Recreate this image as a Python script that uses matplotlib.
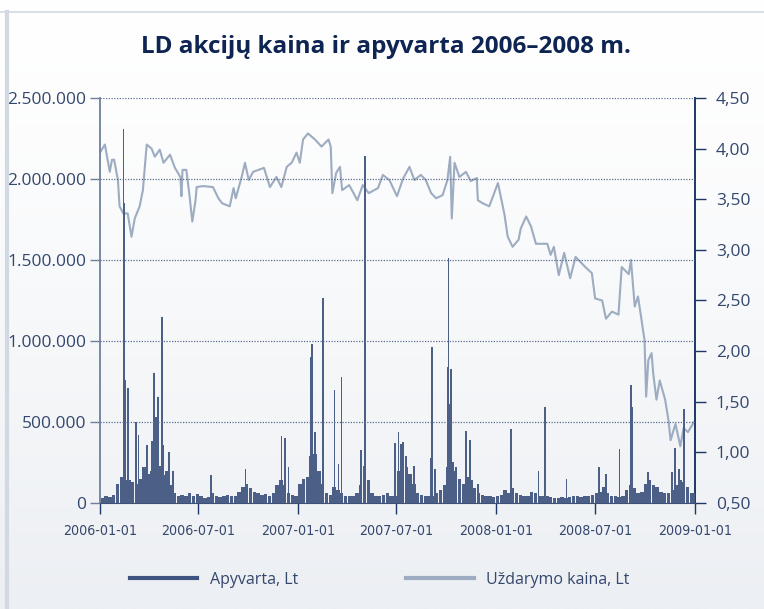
import numpy as np
import pandas as pd
import matplotlib
matplotlib.use("Agg")
import matplotlib.pyplot as plt
import matplotlib.dates as mdates
from matplotlib.ticker import FuncFormatter
from matplotlib.lines import Line2D

# closing price, Lt
price_dates = [
    "2006-01-02", "2006-01-10", "2006-01-19", "2006-01-23", "2006-01-27", "2006-02-03",
    "2006-02-06", "2006-02-13", "2006-02-21", "2006-02-28", "2006-03-06", "2006-03-15",
    "2006-03-21", "2006-03-28", "2006-04-06", "2006-04-12", "2006-04-21", "2006-04-28",
    "2006-05-10", "2006-05-19", "2006-05-29", "2006-05-31", "2006-06-02", "2006-06-09",
    "2006-06-15", "2006-06-20", "2006-06-26", "2006-06-28", "2006-07-10", "2006-07-28",
    "2006-08-07", "2006-08-14", "2006-08-28", "2006-09-04", "2006-09-08", "2006-09-19",
    "2006-09-25", "2006-10-02", "2006-10-10", "2006-10-30", "2006-11-10", "2006-11-22",
    "2006-12-01", "2006-12-11", "2006-12-20", "2006-12-29",
    "2007-01-04", "2007-01-10", "2007-01-19", "2007-02-01", "2007-02-13", "2007-02-26",
    "2007-03-02", "2007-03-05", "2007-03-12", "2007-03-19", "2007-03-23", "2007-04-05",
    "2007-04-20", "2007-04-30", "2007-05-11", "2007-05-28", "2007-06-06", "2007-06-18",
    "2007-07-02", "2007-07-13", "2007-07-25", "2007-08-03", "2007-08-15", "2007-08-24",
    "2007-09-03", "2007-09-12", "2007-09-24", "2007-10-03", "2007-10-08", "2007-10-11",
    "2007-10-16", "2007-10-25", "2007-11-06", "2007-11-15", "2007-11-26", "2007-11-28",
    "2007-12-07", "2007-12-19",
    "2008-01-04", "2008-01-16", "2008-01-22", "2008-01-31", "2008-02-11", "2008-02-15",
    "2008-02-25", "2008-03-05", "2008-03-14", "2008-04-04", "2008-04-10", "2008-04-16",
    "2008-04-25", "2008-05-05", "2008-05-16", "2008-05-26", "2008-06-13", "2008-06-25",
    "2008-07-01", "2008-07-14", "2008-07-21", "2008-08-01", "2008-08-13", "2008-08-19",
    "2008-09-01", "2008-09-05", "2008-09-12", "2008-09-18", "2008-09-30", "2008-10-03",
    "2008-10-07", "2008-10-13", "2008-10-16", "2008-10-22", "2008-10-28", "2008-11-07",
    "2008-11-13", "2008-11-17", "2008-11-26", "2008-12-05", "2008-12-11", "2008-12-19",
    "2008-12-30",
]
price_values = [
    3.97, 4.04, 3.77, 3.89, 3.89, 3.69,
    3.43, 3.36, 3.36, 3.13, 3.31, 3.43,
    3.59, 4.04, 4.00, 3.92, 3.99, 3.86,
    3.94, 3.81, 3.72, 3.53, 3.79, 3.79,
    3.53, 3.28, 3.49, 3.62, 3.63, 3.62,
    3.51, 3.46, 3.43, 3.61, 3.51, 3.72,
    3.86, 3.69, 3.77, 3.81, 3.62, 3.72,
    3.62, 3.82, 3.86, 3.96,
    3.86, 4.09, 4.15, 4.09, 4.02, 4.09,
    4.02, 3.56, 3.76, 3.82, 3.59, 3.64,
    3.49, 3.64, 3.56, 3.61, 3.74, 3.69,
    3.53, 3.70, 3.82, 3.69, 3.74, 3.69,
    3.56, 3.51, 3.54, 3.69, 3.92, 3.31,
    3.86, 3.72, 3.77, 3.68, 3.71, 3.49,
    3.46, 3.43,
    3.66, 3.35, 3.13, 3.03, 3.10, 3.21,
    3.33, 3.23, 3.06, 3.06, 2.95, 3.03,
    2.75, 2.97, 2.72, 2.93, 2.83, 2.77,
    2.52, 2.50, 2.32, 2.39, 2.36, 2.83,
    2.76, 2.90, 2.44, 2.54, 2.11, 1.55,
    1.91, 1.98, 1.78, 1.52, 1.71, 1.52,
    1.32, 1.12, 1.28, 1.06, 1.24, 1.20,
    1.30,
]

# turnover, thousand Lt: weekly background level, first week starts 2006-01-02
week_start = "2006-01-02"
week_volume = [
    30, 45, 35, 50, 120, 160, 140, 140, 130, 120, 150, 220, 180,
    200, 280, 230, 170, 200, 110, 60, 40, 50, 45, 60, 40, 55,
    40, 30, 35, 60, 40, 35, 40, 50, 45, 40, 70, 100, 120,
    90, 70, 60, 50, 55, 40, 60, 110, 140, 110, 60, 50, 40,
    120, 150, 160, 250, 300, 200, 120, 60, 50, 100, 80, 60, 40,
    40, 40, 60, 110, 150, 140, 60, 40, 45, 50, 60, 40, 45,
    200, 250, 220, 180, 120, 60, 50, 40, 40, 45, 60, 80, 110,
    150, 250, 200, 150, 120, 160, 140, 90, 60, 50, 40, 40, 35,
    40, 50, 80, 60, 90, 60, 50, 45, 40, 70, 60, 40, 45,
    45, 35, 30, 30, 35, 30, 35, 40, 40, 35, 40, 45, 50,
    60, 70, 100, 60, 40, 40, 35, 40, 80, 110, 90, 60, 70,
    120, 140, 110, 100, 70, 60, 60, 80, 110, 140, 130, 100, 60, 60,
]

# single-day turnover peaks, thousand Lt
spike_dates = [
    "2006-02-13", "2006-02-14", "2006-02-16", "2006-02-21", "2006-03-08", "2006-03-13",
    "2006-03-28", "2006-04-07", "2006-04-11", "2006-04-14", "2006-04-18", "2006-04-25",
    "2006-04-28", "2006-05-08", "2006-05-16", "2006-07-24", "2006-09-26", "2006-12-01",
    "2006-12-08", "2006-12-14",
    "2007-01-22", "2007-01-24", "2007-01-26", "2007-02-01", "2007-02-16", "2007-03-09",
    "2007-03-16", "2007-03-22", "2007-04-27", "2007-05-02", "2007-05-04", "2007-06-28",
    "2007-07-05", "2007-07-10", "2007-07-13", "2007-07-19", "2007-08-02", "2007-09-03",
    "2007-09-04", "2007-09-10", "2007-10-01", "2007-10-03", "2007-10-05", "2007-10-08",
    "2007-10-10", "2007-10-19", "2007-11-06", "2007-11-14", "2007-11-28",
    "2008-01-28", "2008-03-19", "2008-03-31", "2008-05-09", "2008-07-08", "2008-07-21",
    "2008-08-15", "2008-09-05", "2008-09-08", "2008-10-06", "2008-11-20", "2008-11-25",
    "2008-12-02", "2008-12-12",
]
spike_volume = [
    2310, 1850, 760, 710, 500, 420,
    355, 385, 800, 530, 655, 1150,
    355, 315, 200, 170, 210, 412,
    400, 220,
    290, 903, 980, 440, 1264, 697,
    240, 780, 325, 230, 2140, 372,
    440, 365, 375, 290, 230, 280,
    965, 210, 220, 840, 1510, 610,
    830, 220, 445, 390, 120,
    455, 200, 595, 150, 220, 180,
    335, 730, 595, 190, 190, 340,
    210, 578,
]

bar_color = "#4b5f87"
line_color = "#9dacc1"
navy = "#1e3766"
text_color = "#34476e"

fig = plt.figure(figsize=(7.64, 6.09), dpi=100)

# soft vertical gradient behind everything
bg = fig.add_axes([0, 0, 1, 1], zorder=-10)
grad = np.linspace(0, 1, 256).reshape(-1, 1)
top = np.array([1.0, 1.0, 1.0])
bottom = np.array([0xec, 0xef, 0xf3]) / 255
img = top + (bottom - top) * grad[:, :, None] ** 1.3
bg.imshow(img, aspect="auto", extent=[0, 1, 0, 1])
bg.axis("off")
fig.add_artist(Line2D([0, 1], [0.980, 0.980], color="#d3d9e3", lw=1.2))
fig.add_artist(Line2D([0.009, 0.009], [0, 0.980], color="#d3d9e3", lw=3))

ax = fig.add_axes([0.1309, 0.1741, 0.7788, 0.665])
ax2 = ax.twinx()
ax.set_zorder(ax2.get_zorder() + 1)
ax.patch.set_visible(False)

wk = pd.date_range(week_start, periods=len(week_volume), freq="7D")
ax.bar(wk, np.array(week_volume) * 1000, width=6.2, align="edge",
       color=bar_color, linewidth=0)
sd = pd.to_datetime(spike_dates)
ax.bar(sd, np.array(spike_volume) * 1000, width=3.0, color=bar_color,
       linewidth=0)

pd_dates = pd.to_datetime(price_dates)
ax2.plot(pd_dates, price_values, color=line_color, lw=1.5)

x0, x1 = pd.Timestamp("2006-01-01"), pd.Timestamp("2009-01-01")
ax.set_xlim(x0, x1)
ax.set_ylim(0, 2500000)
ax2.set_ylim(0.5, 4.5)

ax.set_yticks(np.arange(0, 2500001, 500000))
ax.yaxis.set_major_formatter(FuncFormatter(lambda v, p: f"{int(v):,}".replace(",", ".")))
ax2.set_yticks(np.arange(0.5, 4.51, 0.5))
ax2.yaxis.set_major_formatter(FuncFormatter(lambda v, p: f"{v:.2f}".replace(".", ",")))

xt = pd.to_datetime(["2006-01-01", "2006-07-01", "2007-01-01", "2007-07-01",
                     "2008-01-01", "2008-07-01", "2009-01-01"])
ax.set_xticks(xt)
ax.xaxis.set_major_formatter(mdates.DateFormatter("%Y-%m-%d"))

ax.grid(axis="y", color="#5a6c90", linestyle=(0, (1, 1.2)), lw=0.9)
ax.spines["top"].set_visible(False)
ax2.spines["top"].set_visible(False)
ax.spines["left"].set_color("#6f7f9c")
ax.spines["left"].set_linewidth(1.3)
ax.spines["bottom"].set_color("#3d5178")
ax2.spines["right"].set_color(navy)
ax2.spines["right"].set_linewidth(1.4)
ax2.spines["left"].set_visible(False)
ax2.spines["bottom"].set_visible(False)
ax.spines["right"].set_visible(False)

ax.tick_params(axis="y", length=7, width=1, color="#6f7f9c", labelcolor=text_color,
               labelsize=12.5, pad=3)
ax.tick_params(axis="x", length=8, width=1, color=navy, labelcolor=text_color,
               labelsize=10.2, pad=7)
ax2.tick_params(axis="y", length=8, width=1, color=navy, labelcolor=text_color,
                labelsize=12.5, pad=7)
for lab in ax.get_yticklabels() + ax2.get_yticklabels():
    lab.set_family(["Open Sans", "DejaVu Sans"])
for lab in ax.get_xticklabels():
    lab.set_family(["DejaVu Sans"])
    lab.set_fontstretch("condensed")

fig.text(0.505, 0.923, "LD akcijų kaina ir apyvarta 2006–2008 m.", ha="center",
         va="center", fontsize=17.5, fontweight="bold", color="#0e2452",
         family=["Open Sans", "DejaVu Sans"])

handles = [Line2D([], [], color="#3d5380", lw=3),
           Line2D([], [], color=line_color, lw=3)]
leg = fig.legend(handles, ["Apyvarta, Lt", "Uždarymo kaina, Lt"], loc="center",
                 bbox_to_anchor=(0.497, 0.048), ncol=2, frameon=False,
                 handlelength=4.2, columnspacing=6.8, handletextpad=0.8,
                 prop={"family": ["Open Sans", "DejaVu Sans"], "size": 11.5})
for t in leg.get_texts():
    t.set_color(text_color)

fig.savefig("out.png", dpi=100)
